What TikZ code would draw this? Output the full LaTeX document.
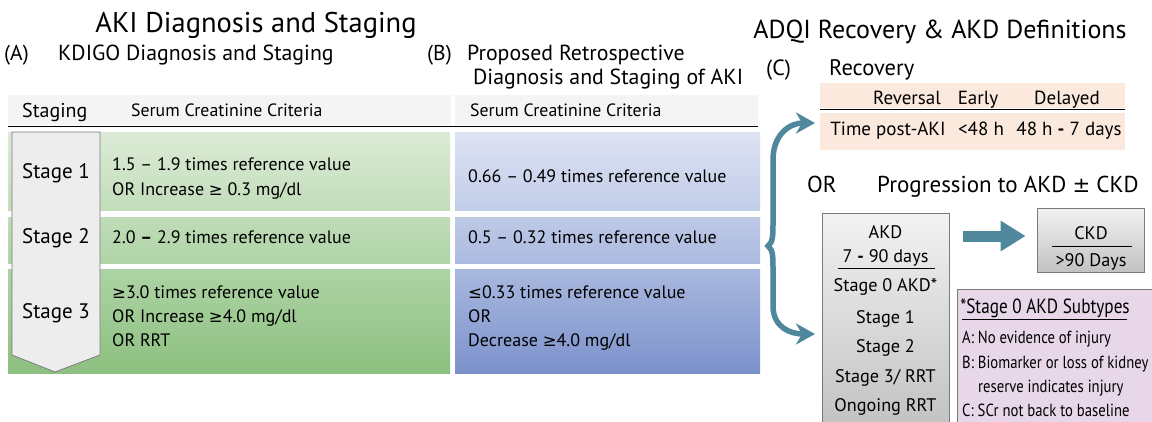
\documentclass[tikz,border=0pt]{standalone}
\usepackage{fontspec}
\setmainfont{PT Sans}
\newfontfamily\symf[Scale=0.92]{DejaVu Sans}
\newfontfamily\condf[FakeStretch=0.84]{PT Sans}
\usetikzlibrary{arrows.meta}
\newcommand\fs[1]{\fontsize{#1}{#1}\selectfont}
\newcommand\mygeq{{\symf ≥}}
\newcommand\myleq{{\symf ≤}}
\newcommand\mypm{{\symf ±}}
\definecolor{tealc}{HTML}{4F889D}
\definecolor{hdrgray}{HTML}{F4F4F4}
\definecolor{peach}{HTML}{FCE9DD}
\definecolor{lilac}{HTML}{E7D7E8}
\definecolor{bordergray}{HTML}{7A7A7A}
\definecolor{gA}{RGB}{220,235,214}
\definecolor{gB}{RGB}{194,221,186}
\definecolor{gC}{RGB}{192,220,184}
\definecolor{gD}{RGB}{175,212,167}
\definecolor{gE}{RGB}{173,211,164}
\definecolor{gF}{RGB}{141,192,128}
\definecolor{bA}{RGB}{221,227,243}
\definecolor{bB}{RGB}{193,204,232}
\definecolor{bC}{RGB}{190,201,230}
\definecolor{bD}{RGB}{172,186,224}
\definecolor{bE}{RGB}{169,184,222}
\definecolor{bF}{RGB}{124,146,204}
\begin{document}
\begin{tikzpicture}[x=1pt,y=-1pt,
  txt/.style={inner sep=0pt, anchor=base west},
  ctxt/.style={inner sep=0pt, anchor=base},
  rowtxt/.style={txt, font=\fs{18}},
  stagetxt/.style={ctxt, font=\fs{21}},
  boxtxt/.style={ctxt, font=\fs{18.2}},
  subtxt/.style={txt, font=\condf\fs{17.5}},
  brace/.style={draw=tealc, line width=5.5pt, line join=miter,
    {Stealth[length=19pt,width=21pt,inset=6pt]}-{Stealth[length=19pt,width=21pt,inset=6pt]}},
  bigarr/.style={draw=tealc, line width=11pt, -{Triangle[length=25pt,width=29pt]}},
  graybox/.style={draw=bordergray, line width=0.8pt, top color=white!95!black, bottom color=white!76!black, inner sep=0pt}
]
\useasboundingbox (0,0) rectangle (1152,421);
\fill[white] (0,0) rectangle (1152,421);

% ---------- titles A/B ----------
\node[ctxt,font=\fs{28.5}] (t1) at (256,32) {AKI Diagnosis and Staging};
\node[txt,font=\fs{21.5}] (la) at (4,60) {(A)};
\node[txt,font=\fs{21.8}] (ta) at (58,60) {KDIGO Diagnosis and Staging};
\node[txt,font=\fs{21.5}] (lb) at (427,60) {(B)};
\node[txt,font=\fs{21.8}] (tb1) at (467,60) {Proposed Retrospective};
\node[txt,font=\fs{21.8}] (tb2) at (473,84) {Diagnosis and Staging of AKI};

% ---------- header band ----------
\fill[hdrgray] (8,95) rectangle (451,125);
\fill[hdrgray] (455,95) rectangle (758,125);
\draw[line width=1pt] (8,126) -- (758,126);
\node[txt,font=\fs{20}] (hs) at (22,117) {Staging};
\node[txt,font=\fs{17.8}] (hc1) at (131,116) {Serum Creatinine Criteria};
\node[txt,font=\fs{17.8}] (hc2) at (470,116) {Serum Creatinine Criteria};

% ---------- green rows ----------
\shade[top color=gA, bottom color=gB] (8,132) rectangle (450,210);
\shade[top color=gC, bottom color=gD] (8,217) rectangle (450,263);
\shade[top color=gE, bottom color=gF] (8,269) rectangle (450,373);

% ---------- blue rows ----------
\shade[top color=bA, bottom color=bB] (455,132) rectangle (760,210);
\shade[top color=bC, bottom color=bD] (455,217) rectangle (760,263);
\shade[top color=bE, bottom color=bF] (455,269) rectangle (760,373);

% ---------- chevron ----------
\draw[draw=bordergray, line width=0.8pt, fill=white!93!black]
  (12,132) -- (100,132) -- (100,355) -- (55,372) -- (12,355) -- cycle;
\node[stagetxt] (s1) at (56,178) {Stage 1};
\node[stagetxt] (s2) at (56,243) {Stage 2};
\node[stagetxt] (s3) at (56,318) {Stage 3};

% ---------- green texts ----------
\node[rowtxt] (g1a) at (112,170) {1.5 – 1.9 times reference value};
\node[rowtxt] (g1b) at (112,195) {OR Increase \mygeq\ 0.3 mg/dl};
\node[rowtxt] (g2) at (112,243) {2.0 \textbf{–} 2.9 times reference value};
\node[rowtxt] (g3a) at (112,298) {\mygeq3.0 times reference value};
\node[rowtxt] (g3b) at (112,322) {OR Increase \mygeq4.0 mg/dl};
\node[rowtxt] (g3c) at (112,346) {OR RRT};

% ---------- blue texts ----------
\node[rowtxt] (b1) at (468,182) {0.66 – 0.49 times reference value};
\node[rowtxt] (b2) at (468,243) {0.5 – 0.32 times reference value};
\node[rowtxt] (b3a) at (468,298) {\myleq0.33 times reference value};
\node[rowtxt] (b3b) at (468,322) {OR};
\node[rowtxt] (b3c) at (468,346) {Decrease \mygeq4.0 mg/dl};

% ---------- section C ----------
\node[ctxt,font=\fs{26}] (t2) at (940,38) {ADQI Recovery \& AKD Definitions};
\node[txt,font=\fs{22}] (lc) at (766,75) {(C)};
\node[txt,font=\fs{22.5}] (rec) at (829,75) {Recovery};

\fill[peach] (820,83) rectangle (1125,108);
\draw[line width=0.9pt] (820,109.5) -- (1125,109.5);
\node[fill=peach, inner sep=0pt, minimum width=305pt, minimum height=37pt] (recrow) at (972.5,131) {};
\node[ctxt,font=\fs{19}] (rh1) at (907,104) {Reversal};
\node[ctxt,font=\fs{19}] (rh2) at (978,104) {Early};
\node[ctxt,font=\fs{19}] (rh3) at (1067,104) {Delayed};
\node[ctxt,font=\fs{19}] (rr1) at (888,135) {Time post-AKI};
\node[ctxt,font=\fs{19}] (rr2) at (981,135) {<48 h};
\node[ctxt,font=\fs{19}] (rr3) at (1069,135) {48 h \textbf{-} 7 days};

\node[txt,font=\fs{23}] (or) at (807,192) {OR};
\node[txt,font=\fs{23}] (prog) at (877,192) {Progression to AKD \mypm\ CKD};

% AKD box
\node[graybox, minimum width=127pt, minimum height=214pt] (akd) at (885.5,320) {};
\node[boxtxt] (a1) at (885.5,238) {AKD};
\node[boxtxt] (a2) at (885.5,262) {7 \textbf{-} 90 days};
\draw[line width=0.9pt] (838,268.5) -- (935,268.5);
\node[boxtxt] (a3) at (885.5,291) {Stage 0 AKD*};
\node[boxtxt] (a4) at (885.5,323) {Stage 1};
\node[boxtxt] (a5) at (885.5,352) {Stage 2};
\node[boxtxt] (a6) at (885.5,382) {Stage 3/ RRT};
\node[boxtxt] (a7) at (885.5,411) {Ongoing RRT};

% CKD box
\node[graybox, minimum width=107pt, minimum height=64pt] (ckd) at (1090.5,240) {};
\node[boxtxt] (c1) at (1091,239) {CKD};
\draw[line width=0.9pt] (1052,246) -- (1132,246);
\node[boxtxt] (c2) at (1091,266) {>90 Days};

% Subtypes box
\node[draw=bordergray, line width=0.8pt, fill=lilac, inner sep=0pt, minimum width=205pt, minimum height=140pt] (sub) at (1059.5,359) {};
\node[ctxt, font=\condf\fs{20.5}] (st) at (1045,313) {*Stage 0 AKD Subtypes};
\draw[line width=0.9pt] (962,319.5) -- (1127,319.5);
\node[subtxt] (sa) at (962,343) {A: No evidence of injury};
\node[subtxt] (sb) at (962,368) {B: Biomarker or loss of kidney};
\node[subtxt] (sb2) at (978,392) {reserve indicates injury};
\node[subtxt] (sc) at (962,416) {C: SCr not back to baseline};

% ---------- connectors ----------
\coordinate (rt) at (815,123);
\coordinate (rb) at (815,334);
\coordinate (bm) at (768,246);
\draw[brace] (rb) .. controls (790,334) and (773,327) .. (773,306) -- (773,270)
  .. controls (773,256) and (773,250) .. (bm)
  .. controls (773,242) and (773,236) .. (773,222) -- (773,160)
  .. controls (773,134) and (790,123) .. (rt);

\draw[bigarr] ([xshift=14pt,yshift=4pt]akd.east |- ckd.west) -- ([xshift=-11pt,yshift=4pt]ckd.west);
\end{tikzpicture}
\end{document}
